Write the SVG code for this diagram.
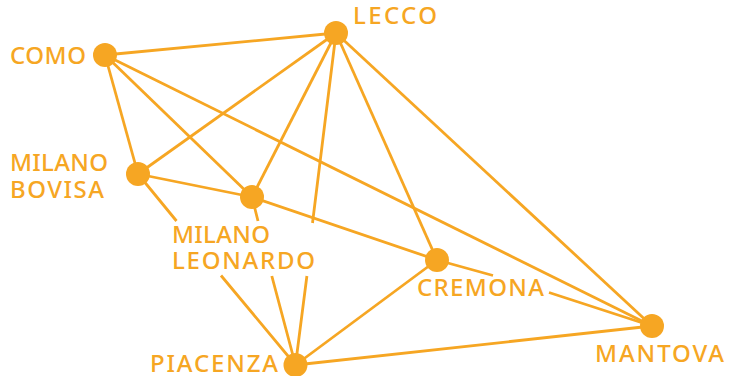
<svg xmlns="http://www.w3.org/2000/svg" width="733" height="376" viewBox="0 0 733 376">
<style>
.e{stroke:#F6A623;stroke-width:2.8;fill:none;stroke-linecap:butt}
.n{fill:#F6A623}
.t{fill:#F6A623;font-family:"Noto Sans","DejaVu Sans",Arial,sans-serif;font-size:24px;font-weight:500}
</style>
<rect width="733" height="376" fill="#fff"/>
<g id="connectors">
<line class="e" x1="105" y1="55" x2="336" y2="33"/>
<line class="e" x1="105" y1="55" x2="138" y2="174"/>
<line class="e" x1="105" y1="55" x2="252" y2="197"/>
<line class="e" x1="105" y1="55" x2="652" y2="326"/>
<line class="e" x1="336" y1="33" x2="138" y2="174"/>
<line class="e" x1="336" y1="33" x2="252" y2="197"/>
<path class="e" d="M336 33L312.5 223M306.9 276L295.5 365"/>
<line class="e" x1="336" y1="33" x2="437" y2="260"/>
<line class="e" x1="336" y1="33" x2="652" y2="326"/>
<line class="e" x1="138" y1="174" x2="252" y2="197"/>
<path class="e" d="M138 174L176.5 221M221 275.5L295.5 365"/>
<line class="e" x1="252" y1="197" x2="437" y2="260"/>
<path class="e" d="M252 197L258 221M271.8 276L295.5 365"/>
<path class="e" d="M437 260L493 275.5M549 292.5L652 326"/>
<line class="e" x1="437" y1="260" x2="295.5" y2="365"/>
<line class="e" x1="295.5" y1="365" x2="652" y2="326"/>
</g>
<g id="como"><circle class="n" cx="105" cy="55" r="12"/><text class="t" x="10" y="64" textLength="76" lengthAdjust="spacing">COMO</text></g>
<g id="lecco"><circle class="n" cx="336" cy="33" r="12"/><text class="t" x="353" y="24" textLength="84" lengthAdjust="spacing">LECCO</text></g>
<g id="milano-bovisa"><circle class="n" cx="138" cy="174" r="12"/><text class="t" x="10" y="171" textLength="98" lengthAdjust="spacing">MILANO</text><text class="t" x="10" y="198" textLength="94" lengthAdjust="spacing">BOVISA</text></g>
<g id="milano-leonardo"><circle class="n" cx="252" cy="197" r="12"/><text class="t" x="172" y="243" textLength="98" lengthAdjust="spacing">MILANO</text><text class="t" x="172" y="269" textLength="143" lengthAdjust="spacing">LEONARDO</text></g>
<g id="cremona"><circle class="n" cx="437" cy="260" r="12"/><text class="t" x="417" y="296" textLength="127" lengthAdjust="spacing">CREMONA</text></g>
<g id="mantova"><circle class="n" cx="652" cy="326" r="12"/><text class="t" x="595" y="362" textLength="129" lengthAdjust="spacing">MANTOVA</text></g>
<g id="piacenza"><circle class="n" cx="295.5" cy="365" r="12"/><text class="t" x="150" y="372" textLength="128" lengthAdjust="spacing">PIACENZA</text></g>
</svg>
